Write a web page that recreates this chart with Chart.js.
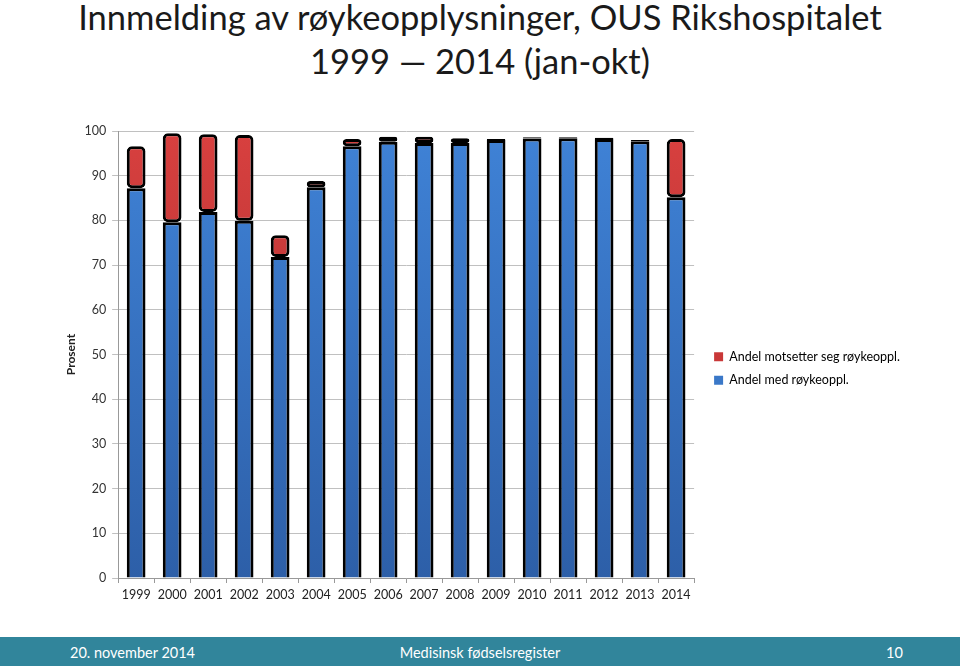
<!DOCTYPE html>
<html>
<head>
<meta charset="utf-8">
<script src="https://cdn.jsdelivr.net/npm/chart.js@4.4.0/dist/chart.umd.min.js"></script>
<style>
  body { margin: 0; width: 960px; height: 666px; background: #fff; position: relative; overflow: hidden; font-family: Lato, "Open Sans", sans-serif; }
  .title { position: absolute; left: 0; width: 960px; text-align: center; color: #1a1a1a; font-size: 34.5px; line-height: 38px; }
  #t1 { top: -2px; }
  #t2 { top: 42px; }
  #wrap { position: absolute; left: 0; top: 100px; width: 960px; height: 520px; }
  .footer { position: absolute; left: 0; top: 637px; width: 960px; height: 29px; background: #31859b; color: #fff; font-size: 14.5px; }
  .footer span { position: absolute; top: 7px; }
</style>
</head>
<body>
<div class="title" id="t1">Innmelding av røykeopplysninger, OUS Rikshospitalet</div>
<div class="title" id="t2">1999 — 2014 (jan-okt)</div>
<div id="wrap"><canvas id="chart"></canvas></div>
<div class="footer">
  <span style="left:70px">20. november 2014</span>
  <span style="left:0;width:960px;text-align:center">Medisinsk fødselsregister</span>
  <span style="left:886px">10</span>
</div>
<script>
// årstall og andeler (prosent)
const years = ['1999','2000','2001','2002','2003','2004','2005','2006','2007','2008','2009','2010','2011','2012','2013','2014'];
const medRoyk = [87.2, 79.6, 81.9, 79.9, 71.8, 87.4, 96.6, 97.6, 97.3, 97.3, 98.0, 98.3, 98.4, 98.2, 97.7, 85.2];
const motsetter = [9.4, 19.9, 17.4, 19.2, 4.9, 1.4, 1.6, 1.1, 1.4, 1.1, 0.2, 0.3, 0.2, 0.3, 0.3, 13.0];
const yTicks = [0, 10, 20, 30, 40, 50, 60, 70, 80, 90, 100];

const blaa = '#3a78c8';
const roed = '#c93838';

function grad(ctx, top, bottom) {
    const chart = ctx.chart;
    const area = chart.chartArea;
    if (!area) return top;
    const g = chart.ctx.createLinearGradient(0, area.top, 0, area.bottom);
    g.addColorStop(0, top);
    g.addColorStop(1, bottom);
    return g;
}

// litt mer luft mellom plottet og forklaringen
const legendShift = {
    id: 'legendShift',
    afterLayout(chart) {
        chart.legend.left += 9;
        chart.legend.right += 9;
    }
};

const ctx = document.getElementById('chart').getContext('2d');
new Chart(ctx, {
    type: 'bar',
    data: {
        labels: years,
        datasets: [
            {
                label: 'Andel med røykeoppl.',
                data: medRoyk,
                backgroundColor: c => grad(c, '#3f82d6', '#2d5fa8'),
                borderColor: '#000',
                borderWidth: 3,
                borderRadius: 5,
                borderSkipped: 'bottom',
                barPercentage: 0.52,
                categoryPercentage: 1
            },
            {
                label: 'Andel motsetter seg røykeoppl.',
                data: motsetter,
                backgroundColor: c => grad(c, '#d8403f', '#a02c2c'),
                borderColor: '#000',
                borderWidth: 3,
                borderRadius: 5,
                borderSkipped: false,
                barPercentage: 0.52,
                categoryPercentage: 1
            }
        ]
    },
    options: {
        responsive: true,
        maintainAspectRatio: false,
        animation: false,
        layout: { padding: { left: 64, right: 59, top: 31, bottom: 14 } },
        plugins: {
            legend: {
                position: 'right',
                reverse: true,
                labels: {
                    boxWidth: 9,
                    boxHeight: 9,
                    color: '#333',
                    font: { family: 'Lato', size: 12.5 },
                    padding: 11,
                    generateLabels: chart => chart.data.datasets.map((ds, i) => ({
                        text: ds.label,
                        fillStyle: i === 0 ? blaa : roed,
                        strokeStyle: i === 0 ? blaa : roed,
                        lineWidth: 0,
                        datasetIndex: i
                    }))
                }
            },
            tooltip: { enabled: false }
        },
        scales: {
            x: {
                stacked: true,
                grid: { offset: true, drawOnChartArea: false, color: '#999', tickLength: 5 },
                border: { color: '#999' },
                ticks: { color: '#222', font: { family: 'Lato', size: 12.5 }, maxRotation: 0, padding: 4 }
            },
            y: {
                stacked: true,
                min: 0,
                max: 100,
                afterBuildTicks: axis => { axis.ticks = yTicks.map(v => ({ value: v })); },
                title: { display: true, text: 'Prosent', color: '#222', font: { family: 'Lato', size: 12, weight: 'bold' }, padding: 0 },
                grid: { color: '#c0c0c0', tickLength: 6 },
                border: { color: '#999' },
                ticks: { color: '#333', font: { family: 'Lato', size: 12.5 }, padding: 6 }
            }
        }
    },
    plugins: [legendShift]
});
</script>
</body>
</html>
